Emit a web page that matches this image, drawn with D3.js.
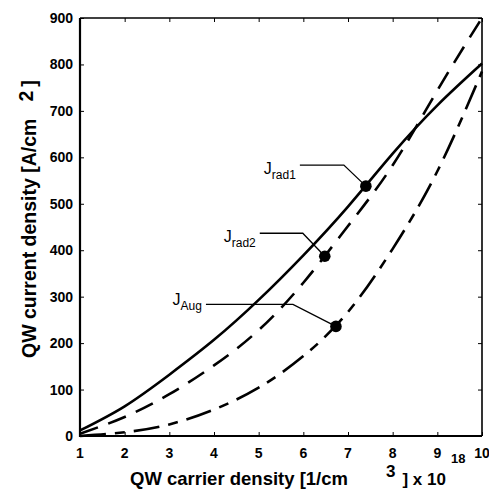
<!DOCTYPE html>
<html>
<head>
<meta charset="utf-8">
<script src="https://cdn.jsdelivr.net/npm/d3@7/dist/d3.min.js"></script>
<style>
  html, body { margin: 0; padding: 0; background: #fff; }
  svg { display: block; }
  .tick-label { font-family: "Liberation Sans", Arial, sans-serif; font-weight: bold; font-size: 14px; }
  .axis-title { font-family: "Liberation Sans", Arial, sans-serif; font-weight: bold; }
  .callout { font-family: "Liberation Sans", Arial, sans-serif; }
</style>
</head>
<body>
<script>
// QW carrier density (x 10^18 cm^-3)
const density = [1, 2, 3, 4, 5, 6, 7, 8, 9, 10];
// Current density contributions (A/cm^2)
const jRad1 = [12, 64, 132, 207, 293, 389, 494, 608, 712, 802];
const jRad2 = [5, 41, 90, 152, 228, 330, 452, 583, 744, 900];
const jAug  = [0, 8, 25, 57, 104, 172, 267, 403, 570, 785];

// Marked operating points on each curve
const markerNames   = ["rad1", "rad2", "Aug"];
const markerDensity = [7.4, 6.48, 6.73];
const markerCurrent = [538, 387, 236];

const xTicks = [1, 2, 3, 4, 5, 6, 7, 8, 9, 10];
const yTicks = [0, 100, 200, 300, 400, 500, 600, 700, 800, 900];

const W = 489, H = 492;
const plot = { left: 80, right: 482, top: 18, bottom: 436 };

const svg = d3.select("body").append("svg")
  .attr("width", W).attr("height", H);

const x = d3.scaleLinear().domain([1, 10]).range([plot.left, plot.right]);
const y = d3.scaleLinear().domain([0, 900]).range([plot.bottom, plot.top]);

// Frame with inward ticks on all four sides
const tickLen = 4;
const axisG = svg.append("g");

axisG.append("g").attr("transform", `translate(0,${plot.bottom})`)
  .call(d3.axisTop(x).tickValues(xTicks).tickSize(tickLen).tickFormat(""))
  .call(g => g.select(".domain").remove());
axisG.append("g").attr("transform", `translate(0,${plot.top})`)
  .call(d3.axisBottom(x).tickValues(xTicks).tickSize(tickLen).tickFormat(""))
  .call(g => g.select(".domain").remove());
axisG.append("g").attr("transform", `translate(${plot.left},0)`)
  .call(d3.axisRight(y).tickValues(yTicks).tickSize(tickLen).tickFormat(""))
  .call(g => g.select(".domain").remove());
axisG.append("g").attr("transform", `translate(${plot.right},0)`)
  .call(d3.axisLeft(y).tickValues(yTicks).tickSize(tickLen).tickFormat(""))
  .call(g => g.select(".domain").remove());

// top and right borders (thinner), left and bottom axes (heavier)
svg.append("line").attr("x1", plot.left).attr("x2", plot.right).attr("y1", plot.top).attr("y2", plot.top)
  .attr("stroke", "#000").attr("stroke-width", 1.6);
svg.append("line").attr("x1", plot.right).attr("x2", plot.right).attr("y1", plot.top).attr("y2", plot.bottom)
  .attr("stroke", "#000").attr("stroke-width", 1.6);
svg.append("line").attr("x1", plot.left).attr("x2", plot.left).attr("y1", plot.top).attr("y2", plot.bottom + 1)
  .attr("stroke", "#000").attr("stroke-width", 2.2);
svg.append("line").attr("x1", plot.left - 1).attr("x2", plot.right).attr("y1", plot.bottom).attr("y2", plot.bottom)
  .attr("stroke", "#000").attr("stroke-width", 2.2);

// Tick labels
svg.append("g").selectAll("text").data(xTicks).join("text")
  .attr("class", "tick-label")
  .attr("x", d => x(d)).attr("y", plot.bottom + 22)
  .attr("text-anchor", "middle")
  .text(d => d);
svg.append("g").selectAll("text").data(yTicks).join("text")
  .attr("class", "tick-label")
  .attr("x", plot.left - 7).attr("y", d => y(d) + 5)
  .attr("text-anchor", "end")
  .text(d => d);

// Curves
const line = d3.line()
  .x(d => x(d[0])).y(d => y(d[1]))
  .curve(d3.curveNatural);
const series = [
  { values: jRad1, dash: null },
  { values: jRad2, dash: "19,11" },
  { values: jAug,  dash: "26,9,10,9" }
];
svg.append("g").selectAll("path").data(series).join("path")
  .attr("d", s => line(density.map((d, i) => [d, s.values[i]])))
  .attr("fill", "none")
  .attr("stroke", "#000")
  .attr("stroke-width", 2.6)
  .attr("stroke-linecap", "butt")
  .attr("stroke-dasharray", s => s.dash);

// Callouts: label, leader line with elbow, and a dot on the curve
const elbowOffset = [[-22, -21], [-22, -23], [-43, -22]];
const legLength   = [44, 43, 87];
const labelDy     = [9, 9, 1];

const callouts = markerNames.map((name, i) => ({
  name,
  px: x(markerDensity[i]), py: y(markerCurrent[i]),
  ex: x(markerDensity[i]) + elbowOffset[i][0],
  ey: y(markerCurrent[i]) + elbowOffset[i][1],
  leg: legLength[i], dy: labelDy[i]
}));

const cg = svg.append("g").selectAll("g").data(callouts).join("g");
cg.append("polyline")
  .attr("points", c => `${c.ex - c.leg},${c.ey} ${c.ex},${c.ey} ${c.px},${c.py}`)
  .attr("fill", "none").attr("stroke", "#000").attr("stroke-width", 1.3);
cg.append("circle")
  .attr("cx", c => c.px).attr("cy", c => c.py).attr("r", 5.8)
  .attr("fill", "#000");
const lbl = cg.append("text")
  .attr("class", "callout")
  .attr("x", c => c.ex - c.leg - 4).attr("y", c => c.ey + c.dy)
  .attr("text-anchor", "end");
lbl.append("tspan").attr("font-size", 16).text("J");
lbl.append("tspan").attr("font-size", 12).attr("dy", 5).text(c => c.name);

// Axis titles
const xt = svg.append("text").attr("class", "axis-title")
  .attr("x", 130).attr("y", 485).attr("font-size", 18.5);
xt.append("tspan").text("QW carrier density [1/cm");
xt.append("tspan").attr("dx", 38).attr("dy", -8).attr("font-size", 17).text("3");
xt.append("tspan").attr("dx", 7).attr("dy", 8).attr("font-size", 17).text("]");
xt.append("tspan").attr("font-size", 17).text(" x 10");
xt.append("tspan").attr("dx", 5).attr("dy", -22).attr("font-size", 13).text("18");

const yt = svg.append("text").attr("class", "axis-title")
  .attr("transform", "translate(36,358) rotate(-90)")
  .attr("font-size", 19.5);
yt.append("tspan").text("QW current density [A/cm");
yt.append("tspan").attr("dx", 17).attr("dy", -3).text("2");
yt.append("tspan").attr("dx", 4).attr("dy", 3).text("]");
</script>
</body>
</html>
